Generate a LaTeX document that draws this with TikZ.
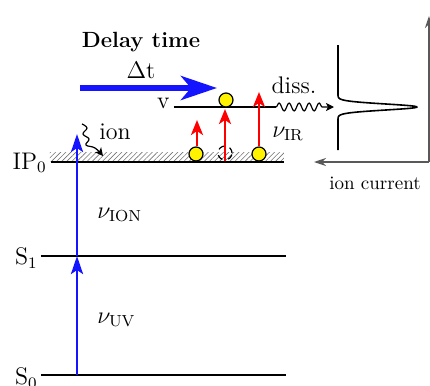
\documentclass[tikz,border=0pt]{standalone}
\usetikzlibrary{arrows.meta,patterns.meta,decorations.pathmorphing}
\begin{document}
\begin{tikzpicture}[x=0.5pt,y=-0.5pt,
  level/.style={line width=1.3pt,black},
  bluearr/.style={draw={rgb,255:red,20;green,20;blue,255},line width=1.4pt,-{Stealth[length=9pt,width=6pt,inset=2pt]}},
  redarr/.style={draw={rgb,255:red,255;green,0;blue,0},line width=1.4pt,-{Stealth[length=7.5pt,width=6pt,inset=2pt]}},
  ball/.style={circle,draw=black,line width=0.6pt,fill=yellow,minimum size=7pt,inner sep=0pt},
  ghost/.style={circle,draw=black,dashed,line width=0.6pt,minimum size=7pt,inner sep=0pt},
  lab/.style={font=\fontsize{12}{14}\selectfont,inner sep=0pt},
  small/.style={font=\fontsize{9.5}{11}\selectfont,inner sep=0pt},
  axis/.style={draw=black!65,line width=0.7pt,-{Stealth[length=6pt,width=4pt]}},
  wavy/.style={draw=black,line width=0.6pt,decorate,decoration={snake,amplitude=2pt,segment length=5pt,post length=5pt},-{Stealth[length=4pt,width=4pt,inset=1pt]}}
]
\useasboundingbox (0,0) rectangle (430,386);

% hatched band above IP0
\fill[pattern={Lines[angle=45,distance=1.8pt,line width=0.3pt]},pattern color=black!55] (50,152) rectangle (284,161);

% levels
\coordinate (s0L) at (41,375); \coordinate (s0R) at (286,375);
\coordinate (s1L) at (41,256); \coordinate (s1R) at (286,256);
\coordinate (ipL) at (51,162); \coordinate (ipR) at (284,162);
\coordinate (vL) at (174,107); \coordinate (vR) at (276,107);
\draw[level] (s0L) -- (s0R);
\draw[level] (s1L) -- (s1R);
\draw[level] (ipL) -- (ipR);
\draw[level] (vL) -- (vR);

% level labels
\node[lab,anchor=east] (ipl) at (47,163) {IP$_0$};
\node[lab,anchor=east] (s1l) at (38,258) {S$_1$};
\node[lab,anchor=east] (s0l) at (38,378) {S$_0$};
\node[lab,anchor=east] (vl) at (170,103) {v};

% blue excitation arrows
\coordinate (uvS) at (77,375);
\coordinate (uvT) at (77,256);
\coordinate (ionT) at (77,134);
\draw[bluearr] (uvS) -- (uvT);
\draw[bluearr] (uvT) -- (ionT);
\node[lab,anchor=west] (nuion) at (97,215) {$\nu_{\mathrm{ION}}$};
\node[lab,anchor=west] (nuuv) at (97,320) {$\nu_{\mathrm{UV}}$};

% ionization squiggle
\coordinate (sqS) at (82,124);
\coordinate (sqE) at (103,156);
\draw[line width=0.6pt,-{Stealth[length=4pt,width=4pt,inset=1pt]}] plot[smooth,tension=0.7] coordinates {(sqS) (87,128) (83,134) (89,139) (86,145) (95,148) (sqE)};
\node[lab,anchor=west] (ionl) at (99,132) {ion};

% delay time
\node[font=\bfseries\fontsize{11}{13}\selectfont,inner sep=0pt] (delay) at (141,42) {Delay time};
\node[lab] (dt) at (141,70) {$\Delta\mathrm{t}$};
\coordinate (dS) at (80,88);
\coordinate (dE) at (217,88);
\draw[draw={rgb,255:red,20;green,20;blue,255},line width=3pt,-{Stealth[length=18pt,width=12pt,inset=5pt]}] (dS) -- (dE);

% red IR arrows
\coordinate (r1S) at (197,146); \coordinate (r1E) at (197,120);
\coordinate (r2S) at (225,161); \coordinate (r2E) at (225,109);
\coordinate (r3S) at (259,146); \coordinate (r3E) at (259,92);
\draw[redarr] (r1S) -- (r1E);
\draw[redarr] (r2S) -- (r2E);
\draw[redarr] (r3S) -- (r3E);

% balls
\node[ghost] (g2) at (225,153) {};
\node[ball] (b1) at (196,154) {};
\node[ball] (b2) at (226,100) {};
\node[ball] (b3) at (259,154) {};

\node[lab,anchor=west] (nuir) at (272,134) {$\nu_{\mathrm{IR}}$};
\node[lab] (diss) at (294,85) {diss.};

% dissociation wavy arrow
\coordinate (wE) at (334,107);
\draw[wavy] (vR) -- (wE);

% spectrum
\draw[line width=0.8pt,black] (338,45) -- (338,86)
  plot[domain=86:128,samples=80,smooth] ({338+79*exp(-((\x-107)/3)^2/2)},\x)
  -- (338,150);

% axes
\coordinate (ax0) at (429,162);
\coordinate (axT) at (429,16);
\coordinate (axL) at (314,162);
\draw[axis] (ax0) -- (axT);
\draw[axis] (ax0) -- (axL);
\node[small] (ic) at (375,183) {ion current};
\end{tikzpicture}
\end{document}
